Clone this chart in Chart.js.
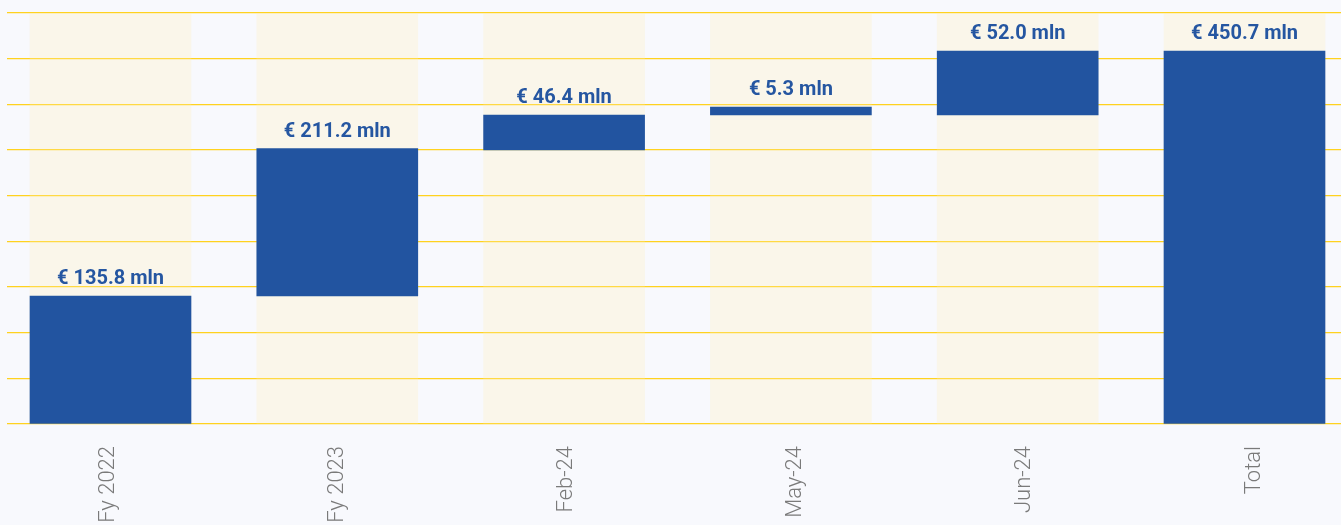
<!DOCTYPE html>
<html>
<head>
<meta charset="utf-8">
<script src="https://cdn.jsdelivr.net/npm/chart.js@4.4.1/dist/chart.umd.min.js"></script>
<style>
  html, body { margin: 0; padding: 0; background: #F8F9FD; overflow: hidden; }
  #wrap { position: relative; width: 1341px; height: 525px; }
</style>
</head>
<body>
<div id="wrap"><canvas id="c"></canvas></div>
<script>
// ---- data ----
const categories = ['Fy 2022', 'Fy 2023', 'Feb-24', 'May-24', 'Jun-24', 'Total'];
const amounts = [135.8, 211.2, 46.4, 5.3, 52.0, 450.7];          // printed values (€ mln)
const barStart = [0, 140.1, 300.0, 338.3, 338.3, 0];              // floating bar bottoms (axis units)
const barEnd   = [140.1, 301.6, 338.3, 347.1, 408.4, 408.4];      // floating bar tops (axis units)
const yMax = 450;
const yStep = 50;

const mainData = categories.map((c, i) => ({ x: i, y: [barStart[i], barEnd[i]] }));
const stripeData = categories.map((c, i) => ({ x: i, y: [0, yMax] }));

const valueLabelPlugin = {
  id: 'valueLabels',
  afterDatasetsDraw(chart) {
    const meta = chart.getDatasetMeta(1);
    const ctx = chart.ctx;
    ctx.save();
    ctx.font = 'bold 20px Roboto';
    ctx.fillStyle = '#2556A1';
    ctx.textAlign = 'center';
    ctx.textBaseline = 'alphabetic';
    meta.data.forEach((el, i) => {
      const top = Math.min(el.y, el.base);
      ctx.fillText('€ ' + amounts[i].toFixed(1) + ' mln', el.x, top - 12);
    });
    ctx.restore();
  }
};

new Chart(document.getElementById('c'), {
  type: 'bar',
  data: {
    datasets: [
      {
        label: 'stripes',
        data: stripeData,
        backgroundColor: 'rgba(255,240,180,0.25)',
        borderWidth: 0,
        barThickness: 161,
        grouped: false,
        order: 2
      },
      {
        label: 'values',
        data: mainData,
        backgroundColor: '#2254A0',
        borderWidth: 0,
        barThickness: 161,
        grouped: false,
        order: 1
      }
    ]
  },
  options: {
    responsive: true,
    maintainAspectRatio: false,
    animation: false,
    layout: { padding: { left: 7, top: 13, right: 0, bottom: 0 } },
    plugins: { legend: { display: false }, tooltip: { enabled: false } },
    scales: {
      x: {
        type: 'linear',
        display: false,
        offset: false,
        min: -0.4563,
        max: 5.4255,
        grid: { display: false, offset: false }
      },
      xLabels: {
        type: 'linear',
        position: 'bottom',
        axis: 'x',
        offset: false,
        min: -0.4407,
        max: 5.3795,
        grid: { display: false, drawTicks: false, offset: false },
        border: { display: false },
        afterFit(scale) { scale.height = 101; },
        ticks: {
          stepSize: 1,
          includeBounds: false,
          autoSkip: false,
          minRotation: 90,
          maxRotation: 90,
          padding: 22,
          color: '#7a7a7a',
          font: { family: 'Roboto', size: 22, weight: 300 },
          callback: (v) => Number.isInteger(v) ? categories[v] : ''
        }
      },
      y: {
        min: 0,
        max: yMax,
        afterFit(scale) { scale.width = 0; },
        border: { display: false },
        grid: { color: '#FFD21F', lineWidth: 1.3, drawTicks: false },
        ticks: { display: false, stepSize: yStep }
      }
    }
  },
  plugins: [valueLabelPlugin]
});
</script>
</body>
</html>
